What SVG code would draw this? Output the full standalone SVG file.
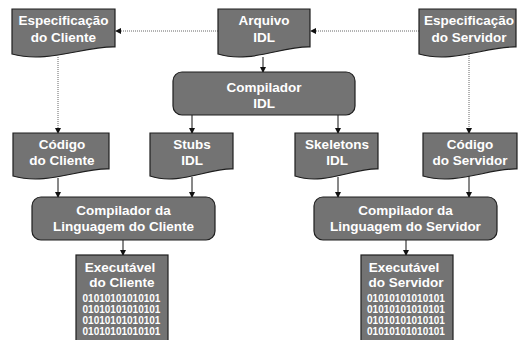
<svg xmlns="http://www.w3.org/2000/svg" width="523" height="340" viewBox="0 0 523 340">
<defs>
<marker id="ah" markerWidth="6" markerHeight="6" refX="5" refY="3" orient="auto" markerUnits="userSpaceOnUse">
<path d="M0,0 L6,3 L0,6 Z" fill="#111"/>
</marker>
<style>
.box{fill:#737373;stroke:#1e1e1e;stroke-width:1.2}
.t{font-family:"Liberation Sans",Arial,sans-serif;font-weight:bold;font-size:13.5px;fill:#fff;text-anchor:middle}
.b{font-family:"Liberation Sans",Arial,sans-serif;font-weight:bold;font-size:10px;fill:#fff;text-anchor:middle}
.s{stroke:#111;stroke-width:1;fill:none;marker-end:url(#ah)}
.d{stroke:#666;stroke-width:1;stroke-dasharray:1,1;fill:none;marker-end:url(#ah)}
</style>
</defs>
<rect width="523" height="340" fill="#fff"/>
<g id="connectors">
<line class="d" x1="218" y1="31" x2="116" y2="31"/>
<line class="d" x1="419" y1="31" x2="311" y2="31"/>
<line class="d" x1="58" y1="57" x2="58" y2="133"/>
<line class="d" x1="469" y1="52" x2="469" y2="133"/>
<line class="s" x1="263" y1="57" x2="263" y2="72"/>
<line class="s" x1="192" y1="115" x2="192" y2="133"/>
<line class="s" x1="338" y1="115" x2="338" y2="133"/>
<line class="s" x1="58" y1="178" x2="58" y2="197"/>
<line class="s" x1="192" y1="177" x2="192" y2="197"/>
<line class="s" x1="338" y1="177" x2="338" y2="197"/>
<line class="s" x1="469" y1="176" x2="469" y2="197"/>
<line class="s" x1="123" y1="240" x2="123" y2="255"/>
<line class="s" x1="406" y1="240" x2="406" y2="255"/>
</g>
<g id="espec-cliente">
<path class="box" d="M12,9 H115 V47 C84,46 48,64 12,54 Z"/>
<text class="t" x="63.5" y="25">Especificação</text>
<text class="t" x="63.5" y="42">do Cliente</text>
</g>
<g id="arquivo-idl">
<path class="box" d="M218,9 H310 V47 C282,46 250,64 218,54 Z"/>
<text class="t" x="264" y="25">Arquivo</text>
<text class="t" x="264" y="42">IDL</text>
</g>
<g id="espec-servidor">
<path class="box" d="M419,9 H516 V47 C487,46 453,64 419,54 Z"/>
<text class="t" x="469" y="25">Especificação</text>
<text class="t" x="469" y="42">do Servidor</text>
</g>
<g id="compilador-idl">
<rect class="box" x="173" y="72" width="182" height="43" rx="9"/>
<text class="t" x="264" y="92">Compilador</text>
<text class="t" x="264" y="108">IDL</text>
</g>
<g id="codigo-cliente">
<path class="box" d="M13,133 H109 V169 C80,168 47,186 13,176 Z"/>
<text class="t" x="62" y="149">Código</text>
<text class="t" x="62" y="165">do Cliente</text>
</g>
<g id="stubs-idl">
<path class="box" d="M150,133 H233 V169 C208,168 179,186 150,176 Z"/>
<text class="t" x="192" y="149">Stubs</text>
<text class="t" x="192" y="165">IDL</text>
</g>
<g id="skeletons-idl">
<path class="box" d="M295,133 H378 V169 C353,168 324,186 295,176 Z"/>
<text class="t" x="337" y="149">Skeletons</text>
<text class="t" x="337" y="165">IDL</text>
</g>
<g id="codigo-servidor">
<path class="box" d="M423,133 H517 V169 C489,168 456,186 423,176 Z"/>
<text class="t" x="470" y="149">Código</text>
<text class="t" x="470" y="165">do Servidor</text>
</g>
<g id="compilador-cliente">
<rect class="box" x="32" y="197" width="183" height="43" rx="9"/>
<text class="t" x="123.5" y="215">Compilador da</text>
<text class="t" x="123.5" y="231">Linguagem do Cliente</text>
</g>
<g id="compilador-servidor">
<rect class="box" x="314" y="197" width="183" height="43" rx="9"/>
<text class="t" x="405.5" y="215">Compilador da</text>
<text class="t" x="405.5" y="231">Linguagem do Servidor</text>
</g>
<g id="executavel-cliente">
<rect class="box" x="76" y="255" width="92" height="100"/>
<text class="t" x="120" y="272">Executável</text>
<text class="t" x="122" y="287">do Cliente</text>
<text class="b" x="121.5" y="302">01010101010101</text>
<text class="b" x="121.5" y="313">01010101010101</text>
<text class="b" x="121.5" y="324">01010101010101</text>
<text class="b" x="121.5" y="335">01010101010101</text>
</g>
<g id="executavel-servidor">
<rect class="box" x="361" y="255" width="92" height="100"/>
<text class="t" x="404" y="272">Executável</text>
<text class="t" x="406" y="287">do Servidor</text>
<text class="b" x="406" y="302">01010101010101</text>
<text class="b" x="406" y="313">01010101010101</text>
<text class="b" x="406" y="324">01010101010101</text>
<text class="b" x="406" y="335">01010101010101</text>
</g>
</svg>
